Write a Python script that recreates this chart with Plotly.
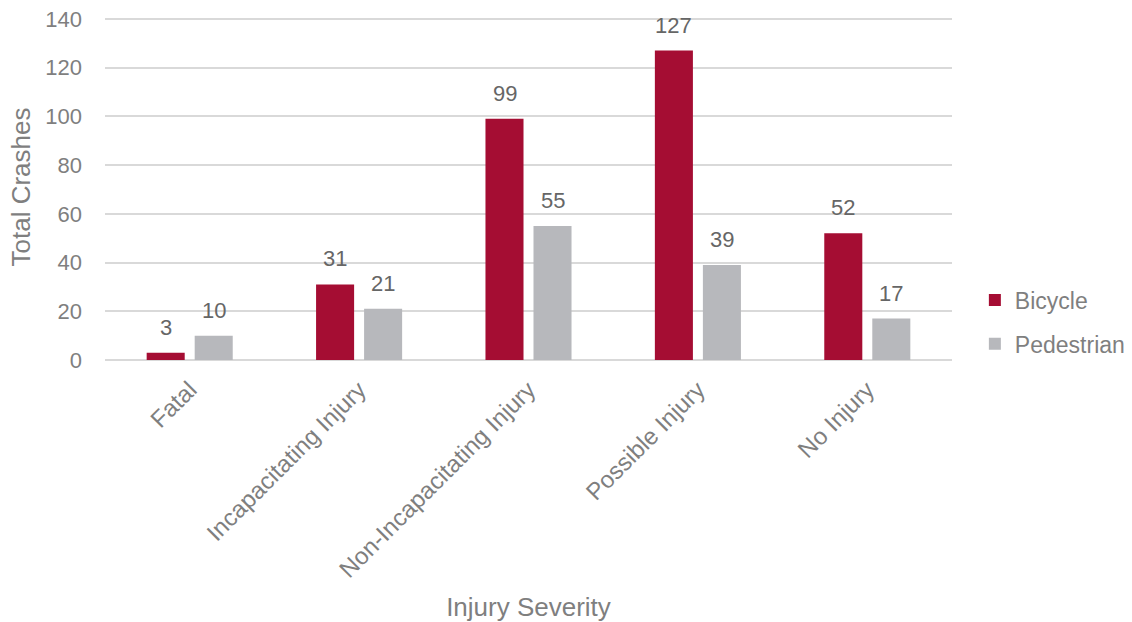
import plotly.graph_objects as go

categories = ["Fatal", "Incapacitating Injury", "Non-Incapacitating Injury", "Possible Injury", "No Injury"]
bicycle = [3, 31, 99, 127, 52]
pedestrian = [10, 21, 55, 39, 17]
y_ticks = [0, 20, 40, 60, 80, 100, 120, 140]

FONT = "Liberation Sans, Arial, sans-serif"
GREY = "#7F7F7F"
LABEL = "#666666"
BIKE_COLOR = "#A50D33"
PED_COLOR = "#B7B8BC"

fig = go.Figure()
fig.add_trace(go.Bar(
    name="Bicycle", x=categories, y=bicycle, legendgroup="bike",
    marker=dict(color=BIKE_COLOR, line=dict(width=0)),
))
fig.add_trace(go.Bar(
    name="Pedestrian", x=categories, y=pedestrian, legendgroup="ped",
    marker=dict(color=PED_COLOR, line=dict(width=0)),
))

# data labels above each bar
for series, shift in ((bicycle, -24), (pedestrian, 24)):
    for cat, val in zip(categories, series):
        fig.add_annotation(
            x=cat, y=val, xref="x", yref="y", text=str(val),
            showarrow=False, xanchor="center", yanchor="bottom",
            xshift=shift, yshift=11,
            font=dict(size=22, color=LABEL, family=FONT),
        )

fig.update_layout(
    width=1132, height=622,
    margin=dict(l=105, r=180, t=14, b=262, autoexpand=False),
    paper_bgcolor="white", plot_bgcolor="white",
    font=dict(family=FONT, color=GREY, size=22),
    barmode="group", bargap=0.433, bargroupgap=0.208,
    showlegend=True,
    legend=dict(x=1.027, y=0.11, xanchor="left", yanchor="middle",
                font=dict(size=23, color=GREY, family=FONT),
                tracegroupgap=11, traceorder="grouped",
                bgcolor="rgba(0,0,0,0)"),
)
fig.update_xaxes(
    tickangle=-45, tickfont=dict(size=24, color=GREY, family=FONT),
    showgrid=False, showline=False, ticks="", ticklabelstandoff=10,
    automargin=False,
    title=dict(text="Injury Severity", font=dict(size=26, color=GREY, family=FONT), standoff=18),
)
fig.update_yaxes(
    range=[0, 142], tickvals=y_ticks, ticktext=[str(v) for v in y_ticks],
    tickfont=dict(size=22, color=GREY, family=FONT),
    showgrid=True, gridcolor="#D9D9D9", gridwidth=1.5,
    zeroline=True, zerolinecolor="#D9D9D9", zerolinewidth=1.5,
    showline=False, ticks="", ticklabelstandoff=22, automargin=False,
    title=dict(text="Total Crashes", font=dict(size=26, color=GREY, family=FONT), standoff=7),
)

fig.write_html("out.html", config={"displayModeBar": False},
               post_script="document.body.style.margin='0';")
